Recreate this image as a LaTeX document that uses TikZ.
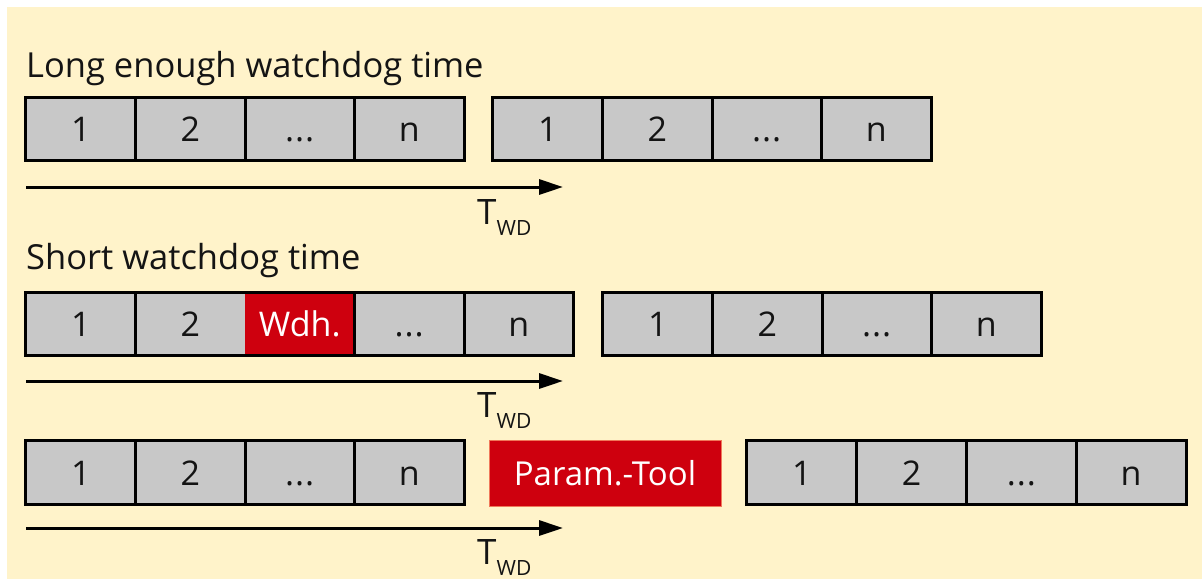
\documentclass[tikz,border=0pt]{standalone}
\usepackage{fontspec}
\setmainfont{Open Sans}
\usetikzlibrary{arrows.meta}
\definecolor{bgyellow}{RGB}{255,243,202}
\definecolor{cellgray}{RGB}{200,200,200}
\definecolor{boxred}{RGB}{206,0,14}
\definecolor{txt}{RGB}{20,20,20}
\tikzset{
  cell/.style={fill=cellgray, minimum width=109.5pt, minimum height=63pt, inner sep=0pt,
    text height=25pt, text depth=0pt, text=txt, font=\fontsize{34}{34}\selectfont},
  redcell/.style={cell, fill=boxred, text=white},
  border/.style={draw=black, line width=3pt},
  title/.style={anchor=base west, inner sep=0pt, text=txt, font=\fontsize{34.5}{34.5}\selectfont},
  tlabel/.style={anchor=base west, inner sep=0pt, text=txt, font=\fontsize{35}{35}\selectfont},
  timearrow/.style={line width=3pt, -{Triangle[length=24pt,width=15pt]}},
}
\newcommand{\twd}{T\raisebox{-11pt}{\fontsize{21}{21}\selectfont WD}}
\newcommand{\dts}{.\kern1pt.\kern1pt.}
\begin{document}
\begin{tikzpicture}[x=1pt,y=-1pt]
\useasboundingbox (0,0) rectangle (1202,579);
\fill[white] (0,0) rectangle (1202,579);
\fill[bgyellow] (7,7) rectangle (1202,579);

% ---------- Row 1 ----------
\node[title] (t1) at (26,77) {Long enough watchdog time};
\node[cell] (a1) at (80.75,129) {1};
\node[cell] (a2) at (190.25,129) {2};
\node[cell] (a3) at (299.75,129) {\dts};
\node[cell] (a4) at (409.25,129) {n};
\draw[border] (a1.north east) -- (a1.south east) (a2.north east) -- (a2.south east) (a3.north east) -- (a3.south east);
\draw[border] (a1.north west) rectangle (a4.south east);
\node[cell] (b1) at (547.75,129) {1};
\node[cell] (b2) at (657.25,129) {2};
\node[cell] (b3) at (766.75,129) {\dts};
\node[cell] (b4) at (876.25,129) {n};
\draw[border] (b1.north east) -- (b1.south east) (b2.north east) -- (b2.south east) (b3.north east) -- (b3.south east);
\draw[border] (b1.north west) rectangle (b4.south east);
\coordinate (s1) at (26,187);
\coordinate (e1) at (563,187);
\draw[timearrow] (s1) -- (e1);
\node[tlabel] (w1) at (477,224) {\twd};

% ---------- Row 2 ----------
\node[title] (t2) at (26,269) {Short watchdog time};
\node[cell] (c1) at (80.75,324) {1};
\node[cell] (c2) at (190.25,324) {2};
\node[redcell, font=\fontsize{34}{34}\selectfont] (c3) at (299.75,324) {Wdh.};
\node[cell] (c4) at (409.25,324) {\dts};
\node[cell] (c5) at (518.75,324) {n};
\draw[border] (c1.north east) -- (c1.south east) (c3.north east) -- (c3.south east) (c4.north east) -- (c4.south east);
\draw[border] (c1.north west) rectangle (c5.south east);
\node[cell] (d1) at (657.75,324) {1};
\node[cell] (d2) at (767.25,324) {2};
\node[cell] (d3) at (876.75,324) {\dts};
\node[cell] (d4) at (986.25,324) {n};
\draw[border] (d1.north east) -- (d1.south east) (d2.north east) -- (d2.south east) (d3.north east) -- (d3.south east);
\draw[border] (d1.north west) rectangle (d4.south east);
\coordinate (s2) at (26,381);
\coordinate (e2) at (563,381);
\draw[timearrow] (s2) -- (e2);
\node[tlabel] (w2) at (477,417) {\twd};

% ---------- Row 3 ----------
\node[cell] (f1) at (80.75,472.5) {1};
\node[cell] (f2) at (190.25,472.5) {2};
\node[cell] (f3) at (299.75,472.5) {\dts};
\node[cell] (f4) at (409.25,472.5) {n};
\draw[border] (f1.north east) -- (f1.south east) (f2.north east) -- (f2.south east) (f3.north east) -- (f3.south east);
\draw[border] (f1.north west) rectangle (f4.south east);
\node[redcell, font=\fontsize{33}{33}\selectfont, minimum width=232pt, minimum height=66pt, draw={rgb,255:red,240;green,120;blue,90}, line width=1pt] (p) at (605,473) {Param.-Tool};
\node[cell] (g1) at (801.9,472.5) {1};
\node[cell] (g2) at (911.6,472.5) {2};
\node[cell] (g3) at (1021.4,472.5) {\dts};
\node[cell] (g4) at (1131.1,472.5) {n};
\draw[border] (g1.north east) -- (g1.south east) (g2.north east) -- (g2.south east) (g3.north east) -- (g3.south east);
\draw[border] (g1.north west) rectangle (g4.south east);
\coordinate (s3) at (26,528);
\coordinate (e3) at (563,528);
\draw[timearrow] (s3) -- (e3);
\node[tlabel] (w3) at (477,564) {\twd};
\end{tikzpicture}
\end{document}
